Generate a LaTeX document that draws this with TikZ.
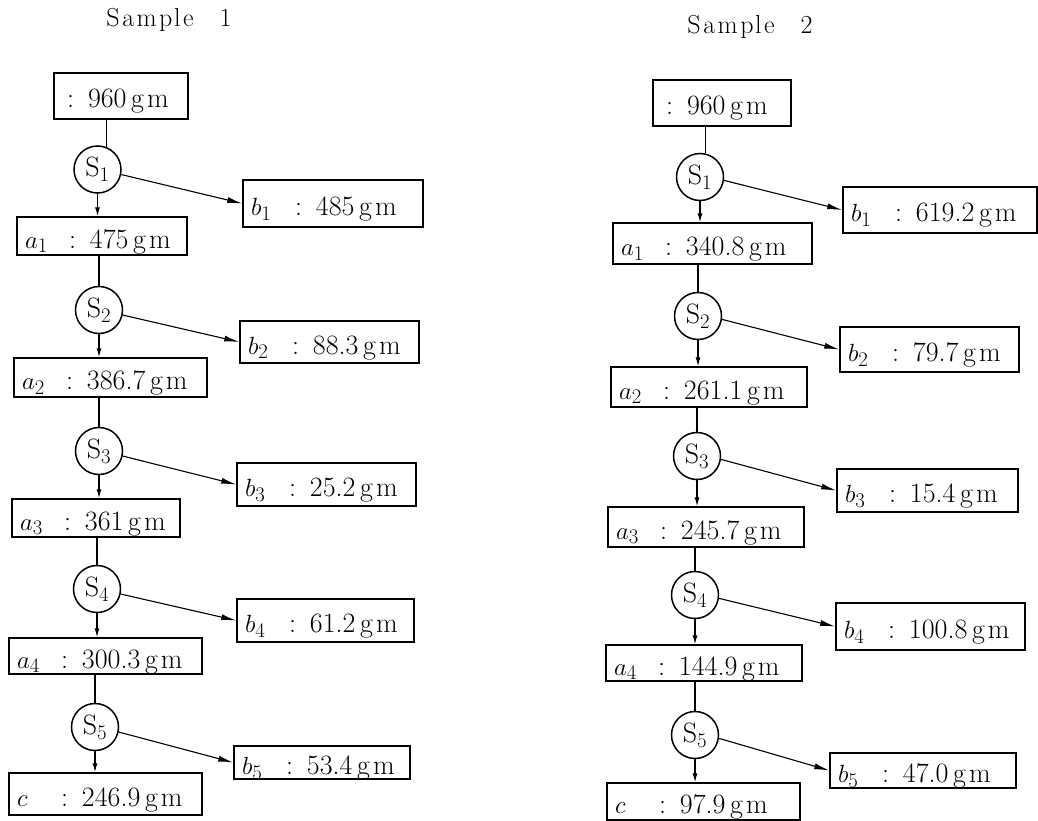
\documentclass[tikz,border=0pt]{standalone}
\usepackage{fontspec}
\usetikzlibrary{arrows.meta}
\newcommand\gbox[7]{\node[gbx, minimum width=#4pt, minimum height=#5pt] (#1) at (#2,#3) {\makebox[\dimexpr#4pt-16pt\relax][l]{\makebox[44pt][l]{#6}:\hspace{14pt}#7\,g\kern3pt m}};}
\newcommand\tbox[6]{\node[gbx, minimum width=#4pt, minimum height=#5pt] (#1) at (#2,#3) {\makebox[\dimexpr#4pt-16pt\relax][l]{\hspace{5pt}:\hspace{14pt}#6\,g\kern3pt m}};}
\newcommand\samp{S\kern2.5pt a\kern2.5pt m\kern2.5pt p\kern1.5pt l\kern2.5pt e}
\begin{document}
\begin{tikzpicture}[x=1pt,y=-1pt,
  txt/.style={font=\fontsize{28}{32}\selectfont},
  gbx/.style={txt, draw, line width=1.5pt, rectangle, inner xsep=8pt, inner ysep=0pt, text height=24pt, text depth=0pt},
  sc/.style={txt, circle, draw, line width=1.5pt, minimum size=47pt, inner sep=0pt},
  flow/.style={line width=1.1pt},
  down/.style={flow, -{Latex[length=9pt,width=5pt]}},
  side/.style={flow, -{Latex[length=15pt,width=6pt]}},
  heading/.style={font=\fontsize{26}{30}\selectfont}]
\path[use as bounding box] (0,0) rectangle (1038,821);

% ---------- Sample 1 ----------
\node[heading] (h1) at (169,20) {\samp\hspace{26pt}1};
\tbox{t1}{121}{96}{134}{46}{960}
\node[sc] (s11) at (97.5,169.5) {S$_1$};
\gbox{b11}{333}{203.5}{180}{47}{$b_1$}{485}
\gbox{a11}{102}{236}{170}{38}{$a_1$}{475}
\node[sc] (s12) at (99,310) {S$_2$};
\gbox{b12}{329.5}{342}{179}{42}{$b_2$}{88.3}
\gbox{a12}{110.5}{377.5}{193}{39}{$a_2$}{386.7}
\node[sc] (s13) at (99,451) {S$_3$};
\gbox{b13}{326.5}{484.5}{179}{43}{$b_3$}{25.2}
\gbox{a13}{96}{518}{168}{38}{$a_3$}{361}
\node[sc] (s14) at (97,589) {S$_4$};
\gbox{b14}{325.5}{620.5}{177}{43}{$b_4$}{61.2}
\gbox{a14}{105.5}{656}{193}{36}{$a_4$}{300.3}
\node[sc] (s15) at (95,727) {S$_5$};
\gbox{b15}{322}{762.5}{176}{33}{$b_5$}{53.4}
\gbox{c1}{105.5}{794}{193}{42}{$c$}{246.9}

\draw[flow] (t1.south -| s11.68) -- (s11.68);
\foreach \i/\n in {1/2,2/3,3/4,4/5}{
  \draw[down] (s1\i.south) -- (s1\i.south |- a1\i.north);
  \draw[flow] (a1\i.south -| s1\n.north) -- (s1\n.north);
}
\draw[down] (s15.south) -- (s15.south |- c1.north);
\foreach \i in {1,...,5}{
  \draw[side] (s1\i.-12) -- (b1\i.west);
}

% ---------- Sample 2 ----------
\node[heading] (h2) at (750,27) {\samp\hspace{26pt}2};
\tbox{t2}{722}{103}{138}{46}{960}
\node[sc] (s21) at (700,177) {S$_1$};
\gbox{b21}{940}{210}{194}{46}{$b_1$}{619.2}
\gbox{a21}{712.5}{243.5}{199}{41}{$a_1$}{340.8}
\node[sc] (s22) at (698,316) {S$_2$};
\gbox{b22}{929.5}{349.5}{179}{45}{$b_2$}{79.7}
\gbox{a22}{709}{387}{196}{40}{$a_2$}{261.1}
\node[sc] (s23) at (697,456) {S$_3$};
\gbox{b23}{927.5}{490.5}{181}{43}{$b_3$}{15.4}
\gbox{a23}{706}{527}{196}{40}{$a_3$}{245.7}
\node[sc] (s24) at (695,595) {S$_4$};
\gbox{b24}{930.5}{626.5}{189}{47}{$b_4$}{100.8}
\gbox{a24}{704}{663}{196}{36}{$a_4$}{144.9}
\node[sc] (s25) at (695,735) {S$_5$};
\gbox{b25}{923}{770.5}{186}{35}{$b_5$}{47.0}
\gbox{c2}{703.5}{801.5}{193}{37}{$c$}{97.9}

\draw[flow] (t2.south -| s21.76) -- (s21.76);
\foreach \i/\n in {1/2,2/3,3/4,4/5}{
  \draw[down] (s2\i.south) -- (s2\i.south |- a2\i.north);
  \draw[flow] (a2\i.south -| s2\n.north) -- (s2\n.north);
}
\draw[down] (s25.south) -- (s25.south |- c2.north);
\foreach \i in {1,...,5}{
  \draw[side] (s2\i.-8) -- (b2\i.west);
}
\end{tikzpicture}
\end{document}
